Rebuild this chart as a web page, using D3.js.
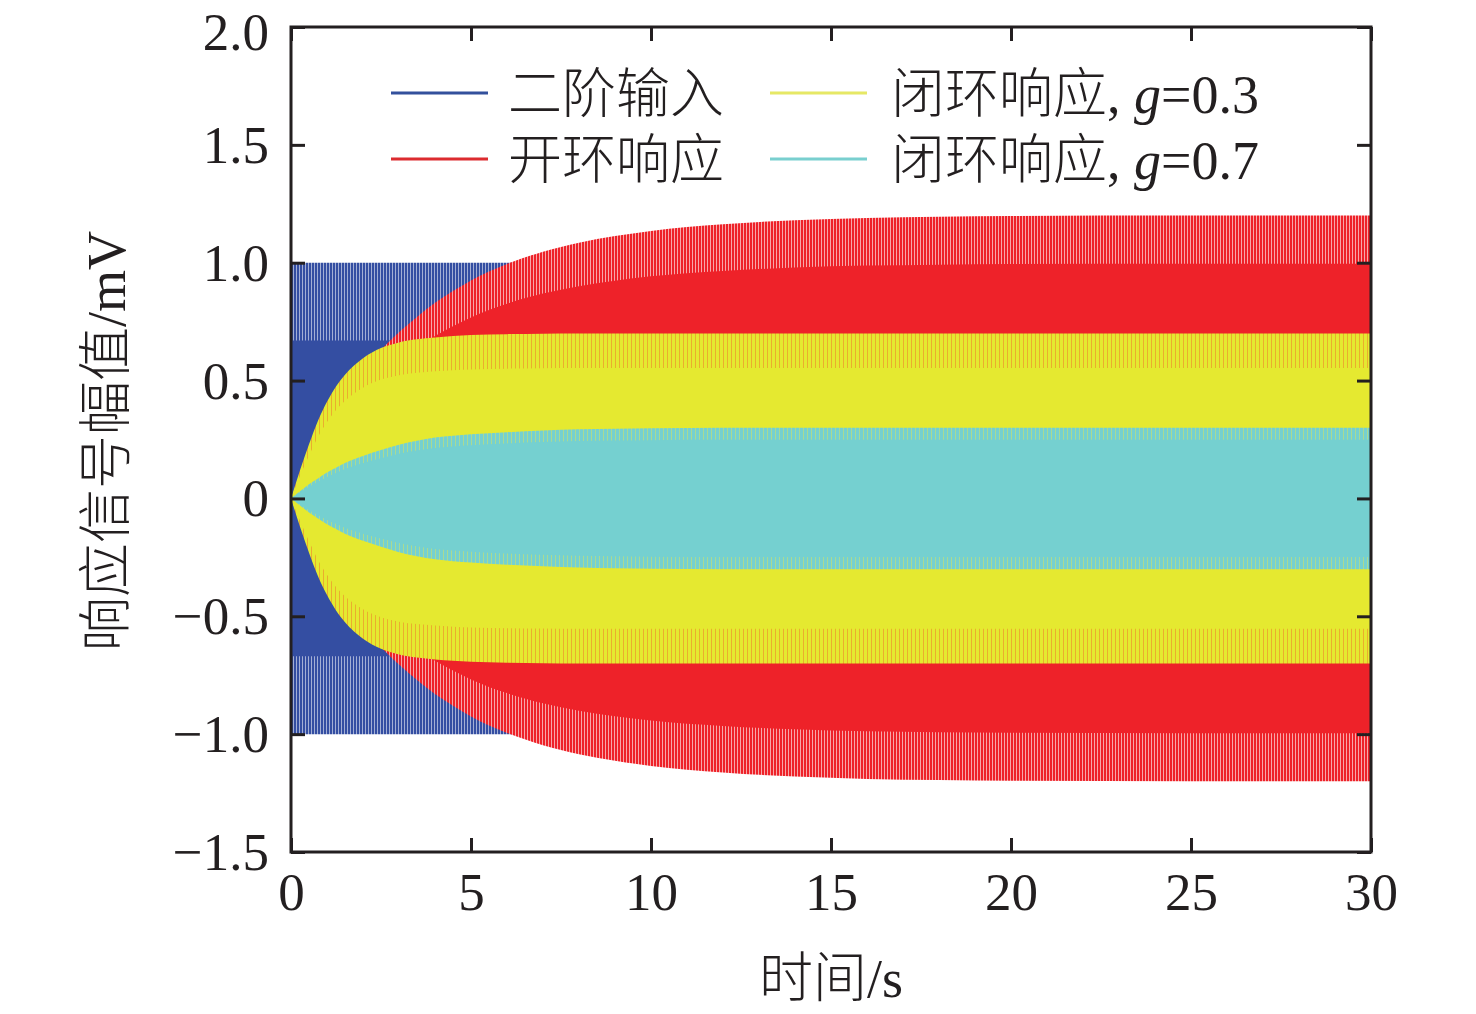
<!DOCTYPE html>
<html><head><meta charset="utf-8">
<script src="https://cdn.jsdelivr.net/npm/d3@7"></script>
<style>body{margin:0;background:#fff}</style>
</head><body>
<svg id="chart" width="1476" height="1014"></svg>
<script>
// envelope amplitudes (mV) of the dense oscillations
const times      = [0,0.25,0.5,0.75,1,1.25,1.5,2,2.5,3,3.5,4,4.5,5,6,7,8,9,10,12,14,16,18,20,25,30];
const inputAmp   = [1,1,1,1,1,1,1,1,1,1,1,1,1,1,1,1,1,1,1,1,1,1,1,1,1,1];
const openAmp    = [0,0.085,0.17,0.24,0.31,0.375,0.435,0.54,0.63,0.705,0.77,0.83,0.88,0.925,0.995,1.047,1.085,1.113,1.135,1.163,1.18,1.19,1.195,1.198,1.2,1.2];
const closed03   = [0,0.12,0.23,0.33,0.41,0.475,0.525,0.595,0.638,0.662,0.675,0.683,0.689,0.693,0.697,0.699,0.7,0.7,0.7,0.7,0.7,0.7,0.7,0.7,0.7,0.7];
const closed07   = [0,0.03,0.06,0.085,0.11,0.13,0.15,0.18,0.205,0.228,0.245,0.258,0.266,0.272,0.281,0.288,0.293,0.296,0.298,0.3,0.3,0.3,0.3,0.3,0.3,0.3];

const seriesNames = ["二阶输入","开环响应","闭环响应","闭环响应"];
const seriesGain  = [null,null,"0.3","0.7"];
const xTicks = [0,5,10,15,20,25,30];
const xTickLabels = ["0","5","10","15","20","25","30"];
const yTicks = [2.0,1.5,1.0,0.5,0,-0.5,-1.0,-1.5];
const yTickLabels = ["2.0","1.5","1.0","0.5","0","−0.5","−1.0","−1.5"];
const xTitle = "时间/s";
const yTitle = "响应信号幅值/mV";

const fillColors   = ["#344ea2","#ee2229","#e5e930","#75d0d0"];
const stripeColors = ["#ffffff","#ffffff","#ec9a2c","#b6dc84"];
const stripeOpac   = [0.55,0.6,0.75,0.8];
const legendColors = ["#33509c","#dc2b2f","#e6e865","#79cfcf"];
const edgeFrac  = [0.33,0.17,0.21,0.17];
const stripePer = [3,3,4,4];

const svg = d3.select("#chart");
const L=291,R=1371,T=27,B=852;
const x = d3.scaleLinear().domain([0,30]).range([L,R]);
const y = d3.scaleLinear().domain([-1.5,2]).range([B,T]);
const serif = "'Liberation Serif','Times New Roman','Noto Sans CJK SC',serif";

const defs = svg.append("defs");
defs.append("clipPath").attr("id","plotclip").append("rect")
  .attr("x",L).attr("y",T).attr("width",R-L).attr("height",B-T);
fillColors.forEach((c,i)=>{
  const p = defs.append("pattern").attr("id","pat"+i).attr("patternUnits","userSpaceOnUse")
    .attr("width",stripePer[i]).attr("height",10);
  p.append("rect").attr("x",0).attr("y",0).attr("width",stripePer[i]).attr("height",10).attr("fill",c);
  p.append("rect").attr("x",stripePer[i]-1).attr("y",0).attr("width",1).attr("height",10)
    .attr("fill",stripeColors[i]).attr("fill-opacity",stripeOpac[i]);
});

const series = [inputAmp, openAmp, closed03, closed07].map(arr => times.map((t,k)=>({t, a:arr[k]})));

const g = svg.append("g").attr("clip-path","url(#plotclip)");
series.forEach((data,i)=>{
  const f = edgeFrac[i];
  const full = d3.area().curve(d3.curveMonotoneX)
    .x(d=>x(d.t)).y0(d=>y(-d.a)).y1(d=>y(d.a));
  const inner = d3.area().curve(d3.curveMonotoneX)
    .x(d=>x(d.t)).y0(d=>y(-d.a*(1-f))).y1(d=>y(d.a*(1-f)));
  g.append("path").datum(data).attr("d",full).attr("fill","url(#pat"+i+")");
  g.append("path").datum(data).attr("d",inner).attr("fill",fillColors[i]);
});

// axes with inward ticks on all four sides
const axisStyle = sel => {
  sel.select(".domain").remove();
  sel.selectAll(".tick line").attr("stroke","#231f20").attr("stroke-width",3);
  sel.selectAll("text").attr("font-family",serif).attr("font-size",53).attr("fill","#231f20");
};
svg.append("g").attr("transform",`translate(${L},0)`)
  .call(d3.axisLeft(y).tickValues(yTicks).tickSize(-14).tickPadding(22)
    .tickFormat((d,i)=>yTickLabels[i])).call(axisStyle)
  .selectAll("text").attr("dy",(d,i)=> i===0 ? "0.43em" : "0.33em");
svg.append("g").attr("transform",`translate(${R},0)`)
  .call(d3.axisRight(y).tickValues(yTicks).tickSize(-14).tickFormat("")).call(axisStyle);
svg.append("g").attr("transform",`translate(0,${B})`)
  .call(d3.axisBottom(x).tickValues(xTicks).tickSize(-14).tickPadding(20)
    .tickFormat((d,i)=>xTickLabels[i])).call(axisStyle);
svg.append("g").attr("transform",`translate(0,${T})`)
  .call(d3.axisTop(x).tickValues(xTicks).tickSize(-14).tickFormat("")).call(axisStyle);

svg.append("rect").attr("x",L).attr("y",T).attr("width",R-L).attr("height",B-T)
  .attr("fill","none").attr("stroke","#231f20").attr("stroke-width",3);

// legend
const legX = [391,770], legTextX=[508,891], legY=[93,159];
seriesNames.forEach((name,i)=>{
  const col = i<2?0:1, row = i%2;
  svg.append("line").attr("x1",legX[col]).attr("x2",legX[col]+97)
    .attr("y1",legY[row]).attr("y2",legY[row])
    .attr("stroke",legendColors[i]).attr("stroke-width",3);
  const t = svg.append("text").attr("x",legTextX[col]).attr("y",legY[row]+20)
    .attr("font-family",serif).attr("font-size",54).attr("fill","#231f20");
  t.append("tspan").attr("font-weight",300).text(name);
  if(seriesGain[i]){
    t.append("tspan").text(", ");
    t.append("tspan").attr("font-style","italic").text("g");
    t.append("tspan").text("="+seriesGain[i]);
  }
});

// axis titles
const xt = svg.append("text").attr("x",831).attr("y",997).attr("text-anchor","middle")
  .attr("font-family",serif).attr("font-size",54).attr("fill","#231f20");
xt.append("tspan").attr("font-weight",300).text(xTitle.split("/")[0]);
xt.append("tspan").text("/"+xTitle.split("/")[1]);
const yt = svg.append("text").attr("transform","translate(125,441) rotate(-90)").attr("text-anchor","middle")
  .attr("font-family",serif).attr("font-size",54).attr("fill","#231f20");
yt.append("tspan").attr("font-weight",300).text(yTitle.split("/")[0]);
yt.append("tspan").text("/"+yTitle.split("/")[1]);
</script>
</body></html>
